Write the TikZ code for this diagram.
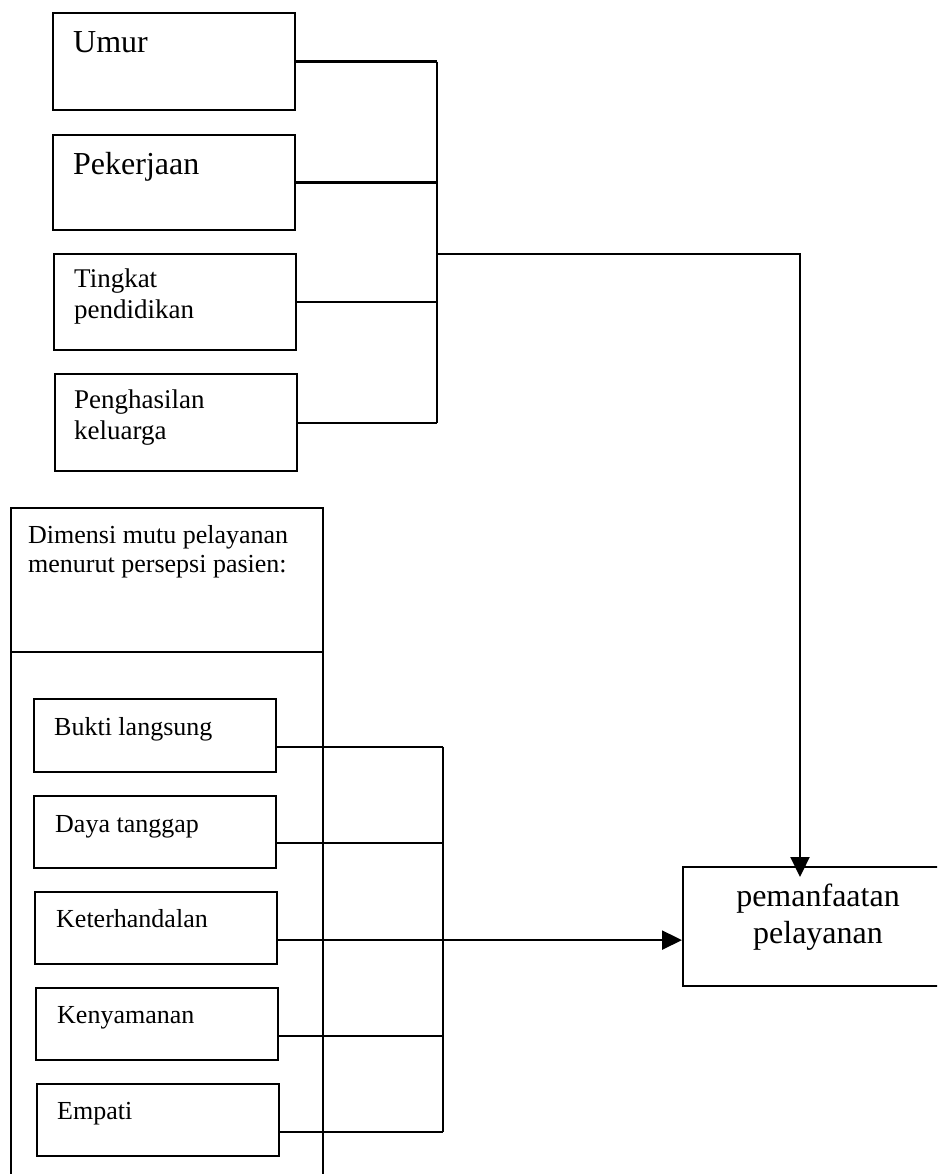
\documentclass[tikz,border=0pt]{standalone}
\usepackage{fontspec}
\setmainfont{Liberation Serif}
\usetikzlibrary{arrows.meta}
\newcommand{\lines}[2]{\begin{tabular}[t]{@{}#1@{}}#2\end{tabular}}
\begin{document}
\begin{tikzpicture}[x=1pt,y=-1pt,
  box/.style={draw, line width=2.2pt, rectangle, inner sep=0pt, anchor=north west},
  wire/.style={line width=2.2pt},
  tip/.style={-{Triangle[length=20pt,width=19pt]}},
  lbl/.style={anchor=base west, inner sep=0pt},
  big/.style={font=\fontsize{32}{37}\selectfont},
  mid/.style={font=\fontsize{27}{31}\selectfont},
  small/.style={font=\fontsize{26}{29}\selectfont},
]
\useasboundingbox (0,0) rectangle (937,1174);
\clip (0,0) rectangle (937,1174);

% socio-demographic factors
\node[box, minimum width=242pt, minimum height=97pt] (umur)  at (52,12)  {};
\node[box, minimum width=242pt, minimum height=95pt] (kerja) at (52,134) {};
\node[box, minimum width=242pt, minimum height=96pt] (didik) at (53,253) {};
\node[box, minimum width=242pt, minimum height=97pt] (hasil) at (54,373) {};
\node[lbl, big] (tumur)  at (73,53)  {Umur};
\node[lbl, big] (tkerja) at (73,175) {Pekerjaan};
\node[lbl, mid] (tdidik) at (74,287) {\lines{l}{Tingkat\\pendidikan}};
\node[lbl, mid] (thasil) at (74,408) {\lines{l}{Penghasilan\\keluarga}};

% collecting bus of the upper group
\coordinate (bus1) at (437,254);
\coordinate (turn) at (800,254);
\draw[wire] (umur.east)  -- (umur.east -| bus1);
\draw[wire] (kerja.east) -- (kerja.east -| bus1);
\draw[wire] (didik.east) -- (didik.east -| bus1);
\draw[wire] (hasil.east) -- (hasil.east -| bus1);
\draw[wire] (umur.east -| bus1) -- (hasil.east -| bus1);

% service quality dimensions (container runs off the page bottom)
\node[box, minimum width=312pt, minimum height=700pt] (dim) at (10,507) {};
\coordinate (divL) at (10,652);
\draw[wire] (divL) -- (divL -| dim.east);
\node[lbl, small] (tdim) at (28,543) {\lines{l}{Dimensi mutu pelayanan\\menurut persepsi pasien:}};

\node[box, minimum width=242pt, minimum height=73pt] (bukti) at (33,698)  {};
\node[box, minimum width=242pt, minimum height=72pt] (daya)  at (33,795)  {};
\node[box, minimum width=242pt, minimum height=72pt] (andal) at (34,891)  {};
\node[box, minimum width=242pt, minimum height=72pt] (nyaman) at (35,987) {};
\node[box, minimum width=242pt, minimum height=72pt] (empati) at (36,1083) {};
\node[lbl, small] (tbukti)  at (54,735)  {Bukti langsung};
\node[lbl, small] (tdaya)   at (55,832)  {Daya tanggap};
\node[lbl, small] (tandal)  at (56,927)  {Keterhandalan};
\node[lbl, small] (tnyaman) at (57,1023) {Kenyamanan};
\node[lbl, small] (tempati) at (57,1119) {Empati};

% outcome
\node[box, minimum width=273pt, minimum height=119pt] (pm) at (682,866) {};
\node[anchor=base, inner sep=0pt, big] (tpm) at (818,906) {\lines{c}{pemanfaatan\\pelayanan}};

% collecting bus of the lower group
\coordinate (bus2) at (443,939);
\coordinate (cb) at ([yshift=-11pt]bukti.east);
\coordinate (cd) at ([yshift=-11pt]daya.east);
\coordinate (ck) at ([yshift=-12pt]andal.east);
\coordinate (cn) at ([yshift=-12pt]nyaman.east);
\coordinate (ce) at ([yshift=-12pt]empati.east);
\draw[wire] (cb) -- (cb -| bus2);
\draw[wire] (cd) -- (cd -| bus2);
\draw[wire] (cn) -- (cn -| bus2);
\draw[wire] (ce) -- (ce -| bus2);
\draw[wire] (cb -| bus2) -- (ce -| bus2);
\draw[wire, tip] (ck) -- (ck -| pm.west);

% upper group into the outcome
\coordinate (tipd) at ([yshift=-11pt]turn |- pm.north);
\draw[wire, tip] (bus1) -- (turn) -- (tipd);
\end{tikzpicture}
\end{document}
